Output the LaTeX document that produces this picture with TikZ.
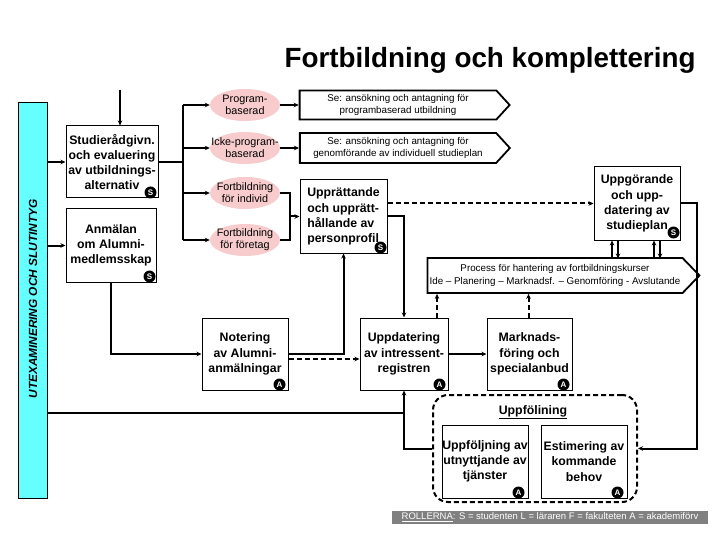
\documentclass[tikz,border=0pt]{standalone}
\usepackage{fontspec}
\setmainfont{Liberation Sans}
\usetikzlibrary{arrows.meta, shapes.geometric, shapes.symbols}

\definecolor{barcyan}{RGB}{102,255,255}
\definecolor{ovalpink}{RGB}{248,204,204}
\definecolor{rolegray}{RGB}{128,128,128}

\begin{document}
\begin{tikzpicture}[x=1pt, y=-1pt,
    box/.style={draw, line width=1pt, fill=white, inner sep=0pt, align=center,
      font=\bfseries\fontsize{12.3}{15.2}\selectfont},
    oval/.style={ellipse, fill=ovalpink, inner xsep=-10pt, inner ysep=0pt,
      minimum width=70, minimum height=32, align=center,
      font=\fontsize{10.8}{12}\selectfont},
    sig/.style={signal, signal to=east, draw, line width=1.8pt, fill=white,
      inner sep=0pt, align=center, font=\fontsize{9.8}{12.5}\selectfont},
    badge/.style={circle, fill=black, text=white, inner sep=0pt, minimum size=12,
      font=\bfseries\fontsize{8}{8}\selectfont},
    line/.style={line width=2pt},
    arr/.style={line width=2pt, -{Stealth[length=5pt,width=4.5pt]}},
    darr/.style={arr, dash pattern=on 5pt off 3pt}]
  \useasboundingbox (0,0) rectangle (720,540);

  % title and side bar
  \node[anchor=base east, font=\bfseries\fontsize{27.8}{30}\selectfont] (title) at (699,68) {Fortbildning och komplettering};
  \node[draw, line width=0.8pt, fill=barcyan, minimum width=29, minimum height=396, inner sep=0pt] (bar) at (32.5,300) {};
  \node[rotate=90, font=\bfseries\itshape\fontsize{11.8}{12}\selectfont] (bartext) at (33,299) {UTEXAMINERING OCH SLUTINTYG};

  % left column
  \node[box, minimum width=92, minimum height=72] (stud) at (112,162) {Studierådgivn.\\och evaluering\\av utbildnings-\\alternativ};
  \node[box, minimum width=90, minimum height=73] (anm) at (111,245.5) {Anmälan\\om Alumni-\\medlemsskap};

  % alternatives
  \node[oval] (prog) at (245,105) {Program-\\baserad};
  \node[oval] (icke) at (245,148) {Icke-program-\\baserad};
  \node[oval] (findiv) at (245,193) {Fortbildning\\för individ};
  \node[oval] (fftg) at (245,240) {Fortbildning\\för företag};
  \node[sig, signal pointer angle=95, minimum width=210, minimum height=29] (seprog) at (398,105) {Se: ansökning och antagning för\\programbaserad utbildning};
  \node[sig, signal pointer angle=95, minimum width=210, minimum height=30] (seind) at (398,148) {Se: ansökning och antagning för\\genomförande av individuell studieplan};

  % profile and study plan
  \node[box, align=left, minimum width=87, minimum height=73] (upp) at (343.5,216.5) {Upprättande\\och upprätt-\\hållande av\\personprofil};
  \node[box, minimum width=86, minimum height=73] (plan) at (637,203.5) {Uppgörande\\och upp-\\datering av\\studieplan};
  \node[sig, signal pointer angle=92, minimum width=272, minimum height=35] (proc) at (555,275.5) {Process för hantering av fortbildningskurser\\Ide -- Planering -- Marknadsf. -- Genomföring - Avslutande};

  % alumni row
  \node[box, minimum width=86, minimum height=72] (noter) at (245,354) {Notering\\av Alumni-\\anmälningar};
  \node[box, minimum width=88, minimum height=72] (uppd) at (404,354) {Uppdatering\\av intressent-\\registren};
  \node[box, minimum width=85, minimum height=72] (mark) at (529.5,354) {Marknads-\\föring och\\specialanbud};

  % follow-up group
  \node[draw, line width=2pt, dash pattern=on 5pt off 3pt, rounded corners=15, minimum width=204, minimum height=107] (foll) at (535,448.5) {};
  \node[font=\bfseries\fontsize{12.3}{14}\selectfont] (fhead) at (533,412) {\underline{Uppfölining}};
  \node[box, minimum width=86, minimum height=73] (utn) at (485,461.5) {Uppföljning av\\utnyttjande av\\tjänster};
  \node[box, minimum width=86, minimum height=73] (est) at (584,461.5) {Estimering av\\kommande\\behov};

  % roles
  \node[fill=rolegray, text=white, minimum width=316, minimum height=13, inner sep=0pt, font=\fontsize{9.5}{10}\selectfont] (roles) at (550,517.5) {\underline{ROLLERNA}: S = studenten L = läraren F = fakulteten A = akademiförv};

  % role badges
  \node[badge] (b1) at ([xshift=-8,yshift=6]stud.south east) {S};
  \node[badge] (b2) at ([xshift=-7,yshift=6]anm.south east) {S};
  \node[badge] (b3) at ([xshift=-7,yshift=6]upp.south east) {S};
  \node[badge] (b4) at ([xshift=-7,yshift=8]plan.south east) {S};
  \node[badge] (b5) at ([xshift=-9,yshift=6]noter.south east) {A};
  \node[badge] (b6) at ([xshift=-9,yshift=6]uppd.south east) {A};
  \node[badge] (b7) at ([xshift=-9,yshift=6]mark.south east) {A};
  \node[badge] (b8) at ([xshift=-10,yshift=6]utn.south east) {A};
  \node[badge] (b9) at ([xshift=-10,yshift=6]est.south east) {A};

  % connectors
  \coordinate (top) at (120,90);
  \draw[arr] (top) -- (top |- stud.north);
  \draw[arr] (bar.east |- stud.west) -- (stud.west);
  \draw[arr] (bar.east |- anm.west) -- (anm.west);
  \coordinate (bus) at (183,105);
  \draw[line] (stud.east) -- (stud.east -| bus);
  \draw[line] (bus |- prog.west) -- (bus |- fftg.west);
  \foreach \e in {prog, icke, findiv, fftg}
    \draw[arr] (bus |- \e.west) -- (\e.west);
  \draw[arr] (prog.east) -- (prog.east -| seprog.west);
  \draw[arr] (icke.east) -- (icke.east -| seind.west);
  \coordinate (join) at (290,216.5);
  \draw[line] (findiv.east) -| (join |- fftg.east) -- (fftg.east);
  \draw[arr] (join) -- (upp.west);
  \draw[darr] (upp.east |- plan.west) -- (plan.west);
  \draw[arr] (upp.east) -| (uppd.north);
  \draw[arr] (anm.south) |- (noter.west);
  \draw[arr] (noter.east) -| (upp.south);
  \draw[darr] ([yshift=-5]noter.east) -- ([yshift=-5]uppd.west);
  \draw[arr] (uppd.east) -- (mark.west);
  \coordinate (d1) at ([xshift=33]uppd.north);
  \coordinate (d2) at ([xshift=-1]mark.north);
  \draw[darr] (d1) -- (d1 |- proc.south);
  \draw[darr] (d2) -- (d2 |- proc.south);
  \foreach \dx in {-25,17} {
    \draw[arr, line width=1.5pt] ([xshift=\dx,yshift=-18]plan.south) -- ([xshift=\dx]plan.south);
    \draw[arr, line width=1.5pt] ([xshift=\dx+6]plan.south) -- ([xshift=\dx+6,yshift=-18]plan.south);
  }
  \coordinate (rt) at (697,203.5);
  \draw[arr] (plan.east) -- (rt) |- (foll.east);
  \draw[arr] (foll.west) -| (uppd.south);
  \coordinate (bl) at (47,413);
  \draw[line] (bl) -- (bl -| uppd.south);
\end{tikzpicture}
\end{document}
